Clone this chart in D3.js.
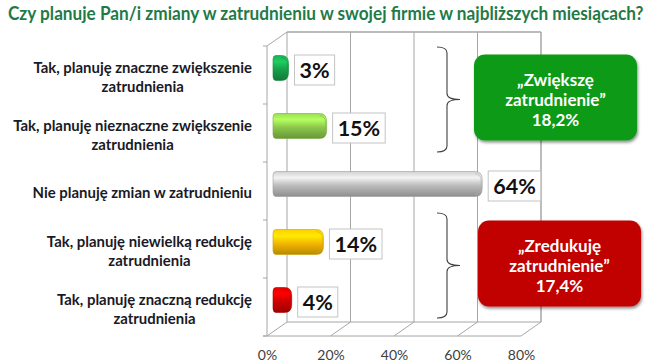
<!DOCTYPE html>
<html><head><meta charset="utf-8">
<script src="https://cdn.jsdelivr.net/npm/d3@7/dist/d3.min.js"></script>
<style>html,body{margin:0;padding:0;background:#fff;}svg{display:block;}</style>
</head><body>
<script>
const title = "Czy planuje Pan/i zmiany w zatrudnieniu w swojej firmie w najbliższych miesiącach?";
const categories = [
  ["Tak, planuję znaczne zwiększenie", "zatrudnienia"],
  ["Tak, planuję nieznaczne zwiększenie", "zatrudnienia"],
  ["Nie planuję zmian w zatrudnieniu"],
  ["Tak, planuję niewielką redukcję", "zatrudnienia"],
  ["Tak, planuję znaczną redukcję", "zatrudnienia"]
];
const values = [3, 15, 64, 14, 4];
const valueLabels = ["3%", "15%", "64%", "14%", "4%"];
const xTicks = [0, 20, 40, 60, 80];
const groupTitles = [["„Zwiększę", "zatrudnienie”"], ["„Zredukuję", "zatrudnienie”"]];
const groupValues = ["18,2%", "17,4%"];
const groupMembers = [[0, 1], [3, 4]];
// styles (kept apart from data)
const barColors = ["#17a04b", "#8cc84b", "#bdbdbd", "#f4b800", "#cf0000"];
const groupColors = ["#0f9a13", "#c10000"];

const W = 655, H = 364;
const FONT = "Lato, 'Open Sans', sans-serif";
const svg = d3.select("body").append("svg").attr("width", W).attr("height", H);
const defs = svg.append("defs");
const shadow = defs.append("filter").attr("id", "sh").attr("x", "-10%").attr("y", "-10%").attr("width", "130%").attr("height", "140%");
shadow.append("feDropShadow").attr("dx", 1).attr("dy", 2).attr("stdDeviation", 1.5).attr("flood-color", "#000").attr("flood-opacity", 0.45);

// title (scaled horizontally to the reference width)
const titleG = svg.append("g");
const titleT = titleG.append("text").attr("x", 0).attr("y", 0).text(title)
  .attr("font-family", FONT).attr("font-weight", 700).attr("font-size", 18).attr("fill", "#1f7a48");
const tW = titleT.node().getComputedTextLength();
titleG.attr("transform", `translate(8,20) scale(${Math.min(1, 636 / tW)},1)`);

// geometry
const x = d3.scaleLinear().domain([0, 80]).range([267, 521]); // front plane
const DX = 20, DY = -14;
const y = d3.scaleBand().domain(d3.range(categories.length)).range([46, 336]);
const xb = v => x(v) + DX;
const floorY = 336;
const wallTop = 46;

const grid = svg.append("g").attr("stroke", "#a6a6a6").attr("fill", "none").attr("stroke-width", 1);
xTicks.forEach(t => {
  grid.append("line").attr("x1", xb(t)).attr("x2", xb(t)).attr("y1", wallTop + DY).attr("y2", floorY + DY)
    .attr("stroke-width", t === 80 ? 1.5 : 1);
});
grid.append("line").attr("x1", xb(0)).attr("x2", xb(80)).attr("y1", wallTop + DY).attr("y2", wallTop + DY).attr("stroke-width", 1.5);
grid.append("line").attr("x1", xb(0)).attr("x2", xb(80)).attr("y1", floorY + DY).attr("y2", floorY + DY);
xTicks.forEach(t => {
  grid.append("line").attr("x1", x(t)).attr("x2", xb(t)).attr("y1", floorY).attr("y2", floorY + DY);
});
grid.append("line").attr("x1", x(0) - 4).attr("x2", x(80)).attr("y1", floorY).attr("y2", floorY);
grid.append("line").attr("x1", x(0)).attr("x2", x(0)).attr("y1", wallTop).attr("y2", floorY);
grid.append("line").attr("x1", x(0)).attr("x2", xb(0)).attr("y1", wallTop).attr("y2", wallTop + DY);
d3.range(categories.length + 1).forEach(i => {
  const yy = i < categories.length ? y(i) : floorY;
  grid.append("line").attr("x1", x(0) - 4).attr("x2", x(0)).attr("y1", yy).attr("y2", yy);
});

// x axis labels
const xAxis = d3.axisBottom(x).tickValues(xTicks).tickFormat(d => d + "%").tickSize(0).tickPadding(14);
const ga = svg.append("g").attr("transform", `translate(0,${floorY})`).call(xAxis);
ga.select(".domain").remove();
ga.selectAll("text").attr("font-family", FONT).attr("font-size", 14).attr("fill", "#404040");

// category labels
const catG = svg.append("g").attr("font-family", FONT).attr("font-weight", 700).attr("fill", "#1a1a26");
const probe = catG.append("text").attr("font-size", 13).text(categories[1][0]);
const pw = probe.node().getComputedTextLength();
probe.remove();
const catSize = 13 * 239 / pw;
const lineH = 19;
categories.forEach((lines, i) => {
  const cy = y(i) + y.bandwidth() / 2 + 2;
  const t = catG.append("text").attr("font-size", catSize).attr("text-anchor", "middle");
  const spans = lines.map(l => t.append("tspan").text(l));
  const maxW = d3.max(spans, s => s.node().getComputedTextLength());
  const cx = 252 - maxW / 2;
  const y0 = cy - (lines.length - 1) * lineH / 2 + catSize * 0.35;
  spans.forEach((s, k) => s.attr("x", cx).attr("y", y0 + k * lineH));
});

// bars
const barH = 25;
const barCY = i => y(i) + y.bandwidth() / 2 + DY / 2;
const barG = svg.append("g");
values.forEach((v, i) => {
  const c = d3.color(barColors[i]);
  const gid = "g" + i;
  const lg = defs.append("linearGradient").attr("id", gid).attr("x1", 0).attr("x2", 0).attr("y1", 0).attr("y2", 1);
  lg.append("stop").attr("offset", "0%").attr("stop-color", c.brighter(0.3));
  lg.append("stop").attr("offset", "25%").attr("stop-color", c.brighter(0.7));
  lg.append("stop").attr("offset", "55%").attr("stop-color", c);
  lg.append("stop").attr("offset", "100%").attr("stop-color", c.darker(0.8));
  const x0 = x(0) + DX / 2 - 4;
  const x1 = x(v) + DX / 2 + 2;
  const cy = barCY(i);
  const t = cy - barH / 2, b = cy + barH / 2;
  const r = Math.min(7, (x1 - x0) / 2);
  const rl = Math.min(3, r);
  const p = `M${x0 + rl},${t} L${x1 - r},${t} Q${x1},${t} ${x1},${t + 8} L${x1},${b - 8} Q${x1},${b} ${x1 - r},${b} L${x0 + rl},${b} Q${x0},${b} ${x0},${b - 4} L${x0},${t + 4} Q${x0},${t} ${x0 + rl},${t} Z`;
  barG.append("path").attr("d", p).attr("fill", `url(#${gid})`).attr("stroke", c.darker(0.5)).attr("stroke-width", 0.6);
  barG.append("path").attr("d", `M${x1 - r},${t + 2} Q${x1 - 1},${t + 3} ${x1 - 1},${t + 9} L${x1 - 1},${b - 9} Q${x1 - 1},${b - 3} ${x1 - r},${b - 2}`)
    .attr("fill", "none").attr("stroke", c.darker(0.25)).attr("stroke-width", 1).attr("opacity", 0.6);

  const lbG = svg.append("g");
  const tx = lbG.append("text").text(valueLabels[i]).attr("font-family", FONT).attr("font-weight", 700)
    .attr("font-size", 21.5).attr("fill", "#111");
  const tw = tx.node().getComputedTextLength();
  const bx = x1 + 6, bw = tw + 10, bh = 30, by = cy - bh / 2 + 2;
  lbG.insert("rect", "text").attr("x", bx).attr("y", by).attr("width", bw).attr("height", bh)
    .attr("fill", "#fff").attr("stroke", "#c4c4c4").attr("stroke-width", 1);
  tx.attr("x", bx + 5).attr("y", by + bh / 2 + 7.5);
});

// braces and callouts
const braceTopOff = [1, -7], braceBotOff = [-10, -18];
groupMembers.forEach((m, gi) => {
  const top = y(m[0]) + braceTopOff[gi];
  const bot = y(m[m.length - 1]) + y.bandwidth() + braceBotOff[gi];
  const mid = (top + bot) / 2;
  const xa = 437, xm = 447, xt = 460;
  const p = `M${xa},${top} Q${xm},${top} ${xm},${top + 6} L${xm},${mid - 6} Q${xm},${mid} ${xt},${mid} Q${xm},${mid} ${xm},${mid + 6} L${xm},${bot - 6} Q${xm},${bot} ${xa},${bot}`;
  svg.append("path").attr("d", p).attr("fill", "none").attr("stroke", "#404040").attr("stroke-width", 1.1);

  const bw = 163, bh = 86, bx = 474 + gi * 4, by = mid - bh / 2 - 2;
  svg.append("rect").attr("x", bx).attr("y", by).attr("width", bw).attr("height", bh).attr("rx", 11)
    .attr("fill", groupColors[gi]).attr("filter", "url(#sh)");
  const lines = groupTitles[gi].concat([groupValues[gi]]);
  const t = svg.append("text").attr("font-family", FONT).attr("font-weight", 700).attr("font-size", 17)
    .attr("fill", "#fff").attr("text-anchor", "middle");
  lines.forEach((l, k) => t.append("tspan").attr("x", bx + bw / 2).attr("y", by + 31 + k * 20).text(l));
});
</script>
</body></html>
